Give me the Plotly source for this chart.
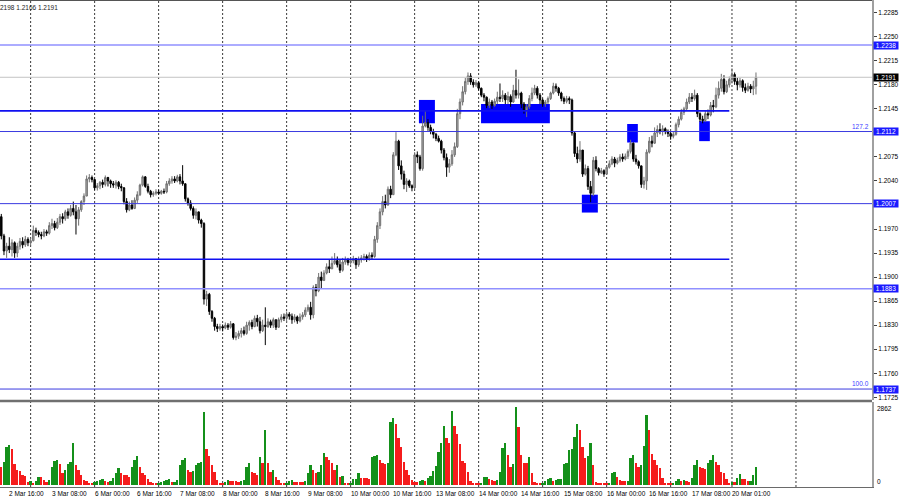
import plotly.graph_objects as go

# ---------------- data (GBP/USD H1) ----------------
first_open = 1.1988
closes = [
    1.1960,1.1938,1.1945,1.1940,1.1950,1.1935,1.1945,1.1952,1.1947,1.1955,
    1.1950,1.1953,1.1968,1.1965,1.1962,1.1960,1.1966,1.1964,1.1975,1.1978,
    1.1972,1.1980,1.1988,1.1985,1.1995,1.1990,1.2000,1.1995,1.1985,1.1998,
    1.2010,1.2018,1.2043,1.2045,1.2042,1.2030,1.2033,1.2038,1.2035,1.2045,
    1.2040,1.2036,1.2034,1.2038,1.2032,1.2030,1.2010,1.1998,1.2005,1.2000,
    1.2012,1.2020,1.2034,1.2046,1.2032,1.2025,1.2020,1.2022,1.2024,1.2022,
    1.2025,1.2024,1.2036,1.2040,1.2043,1.2040,1.2046,1.2040,1.2036,1.2014,
    1.2008,1.2000,1.1990,1.1995,1.1983,1.1978,1.1868,1.1875,1.1850,1.1840,
    1.1828,1.1825,1.1828,1.1826,1.1830,1.1827,1.1832,1.1812,1.1814,1.1818,
    1.1822,1.1818,1.1830,1.1834,1.1828,1.1840,1.1835,1.1822,1.1830,1.1828,
    1.1835,1.1830,1.1838,1.1827,1.1838,1.1842,1.1840,1.1846,1.1843,1.1838,
    1.1842,1.1836,1.1842,1.1845,1.1852,1.1856,1.1845,1.1885,1.1880,1.1900,
    1.1895,1.1906,1.1915,1.1912,1.1920,1.1924,1.1918,1.1910,1.1922,1.1925,
    1.1921,1.1924,1.1927,1.1918,1.1925,1.1928,1.1930,1.1927,1.1932,1.1930,
    1.1955,1.1975,1.1995,1.2010,1.2005,1.2028,1.2020,1.2078,1.2098,1.2062,
    1.2050,1.2035,1.2040,1.2033,1.2030,1.2078,1.2075,1.2058,1.2120,1.2125,
    1.2118,1.2112,1.2108,1.2102,1.2098,1.2085,1.2074,1.2060,1.2065,1.2078,
    1.2090,1.2138,1.2155,1.2170,1.2185,1.2193,1.2184,1.2180,1.2183,1.2175,
    1.2165,1.2162,1.2150,1.2155,1.2150,1.2156,1.2162,1.2160,1.2165,1.2158,
    1.2163,1.2155,1.2172,1.2165,1.2168,1.2152,1.2142,1.2148,1.2160,1.2168,
    1.2175,1.2165,1.2158,1.2152,1.2155,1.2160,1.2168,1.2178,1.2175,1.2168,
    1.2160,1.2156,1.2160,1.2158,1.2110,1.2080,1.2072,1.2085,1.2050,1.2058,
    1.2032,1.2022,1.2070,1.2058,1.2052,1.2055,1.2050,1.2060,1.2065,1.2072,
    1.2066,1.2070,1.2075,1.2072,1.2076,1.2083,1.2095,1.2072,1.2068,1.2062,
    1.2035,1.2040,1.2082,1.2098,1.2095,1.2110,1.2115,1.2112,1.2116,1.2112,
    1.2109,1.2105,1.2108,1.2122,1.2130,1.2140,1.2145,1.2155,1.2162,1.2160,
    1.2165,1.2138,1.2130,1.2128,1.2138,1.2136,1.2150,1.2148,1.2165,1.2175,
    1.2188,1.2170,1.2180,1.2188,1.2195,1.2185,1.2180,1.2186,1.2176,1.2172,
    1.2178,1.2174,1.2178,1.2191,
]
highs = [
    1.1992,1.1963,1.1950,1.1958,1.1955,1.1952,1.1950,1.1957,1.1958,1.1960,
    1.1958,1.1957,1.1975,1.1972,1.1968,1.1966,1.1970,1.1969,1.1980,1.1985,
    1.1982,1.1986,1.1992,1.1993,1.1998,1.2000,1.2005,1.2010,1.2005,1.2002,
    1.2012,1.2022,1.2048,1.2050,1.2048,1.2040,1.2037,1.2040,1.2042,1.2048,
    1.2046,1.2042,1.2040,1.2041,1.2040,1.2036,1.2031,1.2015,1.2010,1.2012,
    1.2016,1.2025,1.2036,1.2048,1.2047,1.2036,1.2027,1.2025,1.2028,1.2027,
    1.2027,1.2029,1.2040,1.2044,1.2047,1.2047,1.2049,1.2050,1.2063,1.2034,
    1.2016,1.2012,1.2003,1.2000,1.1995,1.1985,1.1980,1.1880,1.1877,1.1852,
    1.1842,1.1832,1.1832,1.1831,1.1834,1.1833,1.1836,1.1833,1.1820,1.1822,
    1.1826,1.1828,1.1835,1.1837,1.1838,1.1844,1.1845,1.1842,1.1838,1.1856,
    1.1840,1.1838,1.1841,1.1838,1.1841,1.1846,1.1847,1.1850,1.1849,1.1847,
    1.1846,1.1844,1.1847,1.1849,1.1856,1.1860,1.1864,1.1888,1.1890,1.1906,
    1.1908,1.1910,1.1920,1.1925,1.1930,1.1935,1.1930,1.1925,1.1928,1.1930,
    1.1928,1.1928,1.1931,1.1928,1.1930,1.1932,1.1934,1.1933,1.1936,1.1936,
    1.1960,1.1980,1.2000,1.2018,1.2020,1.2032,1.2033,1.2082,1.2111,1.2100,
    1.2070,1.2055,1.2044,1.2042,1.2035,1.2082,1.2083,1.2078,1.2135,1.2142,
    1.2130,1.2122,1.2116,1.2110,1.2106,1.2100,1.2088,1.2080,1.2072,1.2085,
    1.2096,1.2145,1.2160,1.2178,1.2190,1.2198,1.2197,1.2188,1.2187,1.2185,
    1.2176,1.2168,1.2163,1.2160,1.2158,1.2160,1.2170,1.2182,1.2172,1.2168,
    1.2170,1.2166,1.2180,1.2202,1.2188,1.2170,1.2155,1.2152,1.2165,1.2176,
    1.2180,1.2178,1.2168,1.2160,1.2158,1.2163,1.2170,1.2183,1.2182,1.2177,
    1.2170,1.2163,1.2164,1.2163,1.2160,1.2112,1.2090,1.2098,1.2082,1.2064,
    1.2062,1.2040,1.2075,1.2076,1.2060,1.2059,1.2057,1.2063,1.2070,1.2076,
    1.2075,1.2074,1.2079,1.2080,1.2080,1.2086,1.2100,1.2096,1.2078,1.2070,
    1.2062,1.2046,1.2086,1.2104,1.2106,1.2118,1.2121,1.2124,1.2121,1.2118,
    1.2115,1.2112,1.2112,1.2125,1.2134,1.2145,1.2148,1.2160,1.2168,1.2168,
    1.2173,1.2168,1.2140,1.2135,1.2142,1.2144,1.2155,1.2158,1.2176,1.2185,
    1.2196,1.2194,1.2186,1.2192,1.2204,1.2198,1.2190,1.2190,1.2188,1.2182,
    1.2183,1.2181,1.2186,1.2198,
]
lows = [
    1.1955,1.1932,1.1928,1.1935,1.1930,1.1928,1.1929,1.1940,1.1942,1.1944,
    1.1945,1.1946,1.1952,1.1960,1.1958,1.1955,1.1958,1.1960,1.1962,1.1970,
    1.1968,1.1970,1.1976,1.1978,1.1982,1.1985,1.1988,1.1990,1.1962,1.1975,
    1.1995,1.2005,1.2018,1.2038,1.2038,1.2027,1.2026,1.2028,1.2030,1.2032,
    1.2032,1.2030,1.2030,1.2029,1.2028,1.2025,1.2006,1.1994,1.1996,1.1998,
    1.1999,1.2008,1.2018,1.2032,1.2030,1.2022,1.2016,1.2017,1.2019,1.2020,
    1.2020,1.2021,1.2022,1.2033,1.2036,1.2037,1.2038,1.2035,1.2033,1.2010,
    1.2004,1.1997,1.1985,1.1984,1.1978,1.1972,1.1860,1.1858,1.1845,1.1835,
    1.1822,1.1820,1.1822,1.1821,1.1824,1.1823,1.1825,1.1809,1.1808,1.1810,
    1.1812,1.1815,1.1816,1.1822,1.1824,1.1827,1.1828,1.1818,1.1820,1.1801,
    1.1826,1.1826,1.1826,1.1823,1.1826,1.1834,1.1836,1.1834,1.1838,1.1832,
    1.1834,1.1832,1.1834,1.1838,1.1842,1.1849,1.1838,1.1840,1.1872,1.1878,
    1.1884,1.1895,1.1904,1.1906,1.1912,1.1918,1.1914,1.1906,1.1908,1.1918,
    1.1917,1.1918,1.1920,1.1912,1.1915,1.1921,1.1924,1.1922,1.1924,1.1926,
    1.1928,1.1950,1.1970,1.1990,1.2000,1.2004,1.2015,1.2020,1.2076,1.2056,
    1.2042,1.2028,1.2024,1.2030,1.2025,1.2028,1.2066,1.2055,1.2055,1.2118,
    1.2113,1.2108,1.2102,1.2098,1.2096,1.2080,1.2070,1.2046,1.2052,1.2062,
    1.2075,1.2088,1.2130,1.2150,1.2166,1.2180,1.2180,1.2176,1.2177,1.2172,
    1.2162,1.2156,1.2146,1.2146,1.2145,1.2148,1.2152,1.2155,1.2155,1.2152,
    1.2152,1.2148,1.2154,1.2160,1.2160,1.2146,1.2138,1.2133,1.2145,1.2156,
    1.2165,1.2160,1.2152,1.2148,1.2148,1.2152,1.2158,1.2166,1.2170,1.2164,
    1.2156,1.2152,1.2153,1.2152,1.2106,1.2075,1.2066,1.2068,1.2046,1.2048,
    1.2027,1.2009,1.2018,1.2054,1.2048,1.2050,1.2046,1.2049,1.2058,1.2063,
    1.2060,1.2064,1.2067,1.2068,1.2070,1.2072,1.2080,1.2068,1.2064,1.2058,
    1.2030,1.2029,1.2027,1.2080,1.2089,1.2094,1.2104,1.2108,1.2106,1.2108,
    1.2104,1.2100,1.2102,1.2106,1.2118,1.2128,1.2136,1.2142,1.2152,1.2155,
    1.2157,1.2133,1.2126,1.2124,1.2126,1.2130,1.2134,1.2140,1.2146,1.2160,
    1.2170,1.2166,1.2168,1.2176,1.2182,1.2180,1.2172,1.2176,1.2170,1.2168,
    1.2170,1.2168,1.2165,1.2166,
]
volumes = [
    650,833,1406,1468,1310,771,551,525,367,330,
    120,150,60,158,305,283,184,120,184,672,
    880,900,771,429,551,771,855,1530,734,551,
    367,184,165,84,62,110,147,184,220,147,
    110,147,257,440,613,440,367,349,294,660,
    918,1064,660,440,367,220,110,73,55,73,
    110,147,184,220,110,121,184,734,918,991,
    551,477,514,734,807,855,2668,1321,1064,734,
    488,184,62,55,110,184,147,140,135,128,
    147,184,660,807,477,440,367,1028,818,2019,
    818,488,551,305,184,84,62,75,147,184,
    121,110,106,100,147,429,734,551,429,459,
    734,1163,1039,918,807,551,734,305,330,73,
    62,84,220,231,440,257,250,242,235,1028,
    1064,1101,918,818,780,807,2301,2448,2239,1736,
    1406,855,551,367,184,120,100,150,200,160,
    260,330,500,700,1200,1530,2165,1736,1530,2727,
    2176,1861,1494,881,818,488,158,84,62,55,
    84,283,305,209,184,158,184,488,1347,1530,
    1101,672,771,2862,2118,1101,796,790,1017,429,
    121,84,62,84,158,209,246,158,184,209,
    215,771,818,1285,1310,1750,2239,2019,1406,1000,
    1064,1530,734,121,84,62,55,50,70,429,
    488,283,184,158,150,160,980,1101,818,672,
    734,1430,2569,2019,1138,918,734,613,246,84,
    62,55,84,158,209,158,184,158,121,246,
    734,918,650,613,600,796,918,1101,855,734,
    488,451,209,84,125,115,246,392,209,205,
    150,160,367,650,
]

# time axis labels (bar index -> text)
time_label_bars = [3, 19, 35, 51, 67, 83, 99, 115, 131, 147, 163, 179, 195, 211, 227, 243, 259, 274]
time_labels = ["2 Mar 16:00", "3 Mar 08:00", "6 Mar 00:00", "6 Mar 16:00", "7 Mar 08:00",
               "8 Mar 00:00", "8 Mar 16:00", "9 Mar 08:00", "10 Mar 00:00", "10 Mar 16:00",
               "13 Mar 08:00", "14 Mar 00:00", "14 Mar 16:00", "15 Mar 08:00", "16 Mar 00:00",
               "16 Mar 16:00", "17 Mar 08:00", "20 Mar 01:00"]
day_start_bars = [11, 35, 59, 83, 107, 131, 155, 179, 203, 227, 251, 274, 298]
# price scale labels visible in the picture (1.2110 and 1.2005 sit under level tags)
price_ticks = [1.1725, 1.1760, 1.1795, 1.1830, 1.1865, 1.1900, 1.1935, 1.1970,
               1.2040, 1.2075, 1.2145, 1.2180, 1.2215, 1.2250, 1.2285]

# horizontal levels: full-width and segment lines
full_levels = [1.2238, 1.2112, 1.2007, 1.1883, 1.1737]
full_level_kind = ["light", "fib", "fib", "light", "fib"]
segment_levels = [1.2142, 1.1926]
segment_end_bar = 273
tagged_levels = [1.2238, 1.2112, 1.2007, 1.1883, 1.1737]
fib_levels = [1.2112, 1.1737]
fib_texts = ["127.2", "100.0"]
# zones: (bar_from, bar_to, price_low, price_high)
zones = [(156.6, 162.6, 1.2124, 1.2158),
         (179.9, 205.7, 1.2124, 1.2152),
         (217.7, 223.7, 1.1994, 1.2020),
         (234.7, 238.7, 1.2096, 1.2123),
         (261.7, 265.7, 1.2098, 1.2127)]
header_text = "2198 1.2166 1.2191"
volume_scale_max = 2862

# ---------------- figure ----------------
FONT = "Tahoma, 'Liberation Sans', Arial, sans-serif"
FS = 6.5
n = len(closes)
idx = list(range(n))
opens = [first_open] + closes[:-1]
hi = [max(h, o, c) for h, o, c in zip(highs, opens, closes)]
lo = [min(l, o, c) for l, o, c in zip(lows, opens, closes)]
vol_colors = ["#14901a" if i > 0 and volumes[i] > volumes[i - 1] else "#f51c1c" for i in range(n)]

W, H = 900, 500
ML, MR, MT, MB = 0, 28, 0, 13
PW, PH = W - ML - MR, H - MT - MB
bar_px = 2.6667
x0_px = 1.3
x_range = [(0 - x0_px) / bar_px, (PW - x0_px) / bar_px]

price_bottom_px = 400
price_px_per_unit = 6867.0
price_top = 1.2238 + 45 / price_px_per_unit
price_bot = price_top - price_bottom_px / price_px_per_unit
vol_per_px = volume_scale_max / 78.0
vol_range = [-2 * vol_per_px, 83 * vol_per_px]

fig = go.Figure()
fig.add_trace(go.Bar(x=idx, y=volumes, yaxis="y2", xaxis="x",
                     marker=dict(color=vol_colors, line=dict(width=0)),
                     width=0.72, hoverinfo="skip", showlegend=False))
fig.add_trace(go.Candlestick(
    x=idx, open=opens, high=hi, low=lo, close=closes,
    increasing=dict(line=dict(color="#707070", width=1), fillcolor="#ababab"),
    decreasing=dict(line=dict(color="#000000", width=1), fillcolor="#000000"),
    whiskerwidth=0, showlegend=False, hoverinfo="skip"))

shapes = []
for b in day_start_bars:
    shapes.append(dict(type="line", xref="x", yref="paper", x0=b, x1=b, y0=0, y1=1,
                       line=dict(color="#3a3a3a", width=1, dash="2px,2px"), layer="below"))
for (a, b, pl, ph) in zones:
    shapes.append(dict(type="rect", xref="x", yref="y", x0=a, x1=b, y0=pl, y1=ph,
                       fillcolor="#0000ff", line=dict(width=0), layer="below"))
shapes.append(dict(type="line", xref="paper", yref="y", x0=0, x1=1, y0=closes[-1], y1=closes[-1],
                   line=dict(color="#c4c4c4", width=1)))
for p, kind in zip(full_levels, full_level_kind):
    if kind == "light":
        ln = dict(color="#9090ff", width=1.6)
    else:
        ln = dict(color="#3a3ae0", width=1)
    shapes.append(dict(type="line", xref="paper", yref="y", x0=0, x1=1, y0=p, y1=p, line=ln))
for p in segment_levels:
    shapes.append(dict(type="line", xref="x", yref="y", x0=x_range[0], x1=segment_end_bar,
                       y0=p, y1=p, line=dict(color="#1010f0", width=1.6)))
# panel separator and top border
sep_y = (PH - 401) / PH
shapes.append(dict(type="line", xref="paper", yref="paper", x0=0, x1=1, y0=sep_y, y1=sep_y,
                   line=dict(color="#707070", width=2.3)))
shapes.append(dict(type="line", xref="paper", yref="paper", x0=0, x1=1, y0=1, y1=1,
                   line=dict(color="#555555", width=2)))

ann = []
for b, t in zip(time_label_bars, time_labels):
    ann.append(dict(x=b, y=0, xref="x", yref="paper", text=t, showarrow=False,
                    xanchor="left", yanchor="top", xshift=-2, yshift=-1,
                    font=dict(family=FONT, size=FS, color="#000000")))
tag_x = (PW + 1) / PW
for p in tagged_levels:
    ann.append(dict(x=tag_x, y=p, xref="paper", yref="y", text=f"{p:.4f}", showarrow=False,
                    xanchor="left", yanchor="middle", bgcolor="#1a1aff", borderpad=0,
                    width=24, height=7, font=dict(family=FONT, size=FS, color="#ffffff")))
ann.append(dict(x=tag_x, y=closes[-1], xref="paper", yref="y", text=f"{closes[-1]:.4f}",
                showarrow=False, xanchor="left", yanchor="middle", bgcolor="#000000", borderpad=0,
                width=24, height=7, font=dict(family=FONT, size=FS, color="#ffffff")))
for p, t in zip(fib_levels, fib_texts):
    ann.append(dict(x=1, y=p, xref="paper", yref="y", text=t, showarrow=False,
                    xanchor="right", yanchor="bottom", yshift=0, xshift=-1,
                    font=dict(family=FONT, size=FS, color="#4040ff")))
ann.append(dict(x=tag_x, y=volume_scale_max, xref="paper", yref="y2", text=str(volume_scale_max),
                showarrow=False, xanchor="left", yanchor="middle", yshift=-1, xshift=2,
                font=dict(family=FONT, size=FS, color="#000000")))
ann.append(dict(x=tag_x, y=0, xref="paper", yref="y2", text="0",
                showarrow=False, xanchor="left", yanchor="middle", yshift=4, xshift=2,
                font=dict(family=FONT, size=FS, color="#000000")))
ann.append(dict(x=0, y=1, xref="paper", yref="paper", text=header_text, showarrow=False,
                xanchor="left", yanchor="top", yshift=-2, xshift=-2,
                font=dict(family=FONT, size=FS, color="#222222")))

fig.update_layout(
    width=W, height=H, margin=dict(l=ML, r=MR, t=MT, b=MB, pad=0),
    paper_bgcolor="#ffffff", plot_bgcolor="#ffffff",
    showlegend=False, boxgap=0.45, boxgroupgap=0, bargap=0,
    font=dict(family=FONT, size=FS, color="#000000"),
    xaxis=dict(domain=[0, 1], range=x_range, anchor="y2", showticklabels=False, ticks="",
               showgrid=False, zeroline=False, showline=True, linecolor="#6a6a6a", linewidth=1,
               rangeslider=dict(visible=False), fixedrange=True),
    yaxis=dict(domain=[(PH - price_bottom_px) / PH, 1], range=[price_bot, price_top], side="right",
               anchor="x", tickvals=price_ticks, ticktext=[f"{v:.4f}" for v in price_ticks],
               ticks="outside", ticklen=3, tickwidth=1, tickcolor="#404040",
               tickfont=dict(family=FONT, size=FS, color="#000000"),
               showgrid=False, zeroline=False, showline=True, linecolor="#a0a0a0", linewidth=2,
               fixedrange=True),
    yaxis2=dict(domain=[0, (PH - 402) / PH], range=vol_range, side="right", anchor="x",
                showticklabels=False, ticks="", showgrid=False, zeroline=False,
                showline=True, linecolor="#a0a0a0", linewidth=2, fixedrange=True),
    shapes=shapes, annotations=ann,
)

fig.write_html("out.html", config={"displayModeBar": False},
               post_script="document.body.style.margin='0';document.body.style.overflow='hidden';")
